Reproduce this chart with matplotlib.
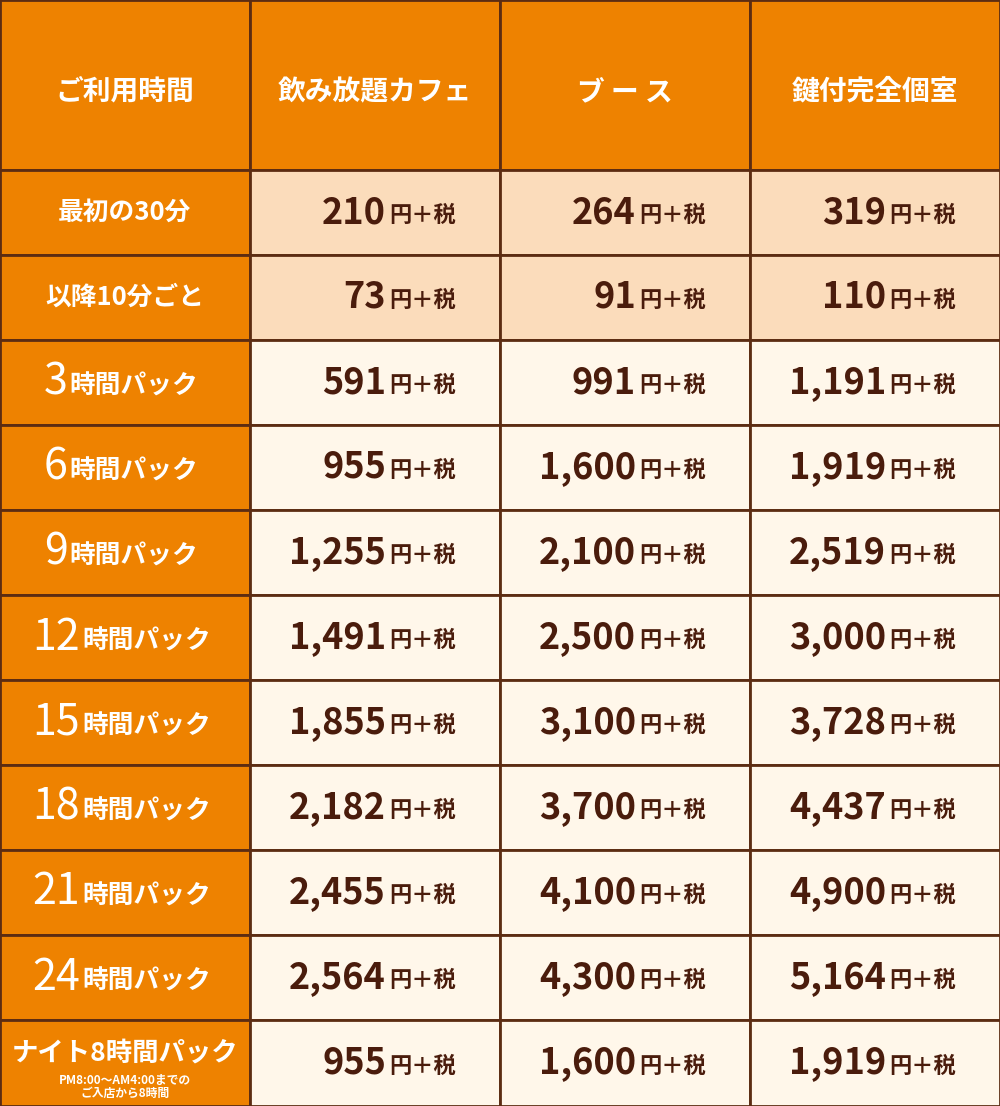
import matplotlib.pyplot as plt
from matplotlib.patches import Rectangle

plt.rcParams['font.family'] = 'Noto Sans CJK JP'

headers = ['ご利用時間', '飲み放題カフェ', 'ブ ー ス', '鍵付完全個室']
row_nums = ['', '', '3', '6', '9', '12', '15', '18', '21', '24', '']
row_labels = ['最初の30分', '以降10分ごと', '時間パック', '時間パック', '時間パック', '時間パック',
              '時間パック', '時間パック', '時間パック', '時間パック', 'ナイト8時間パック']
cafe = ['210', '73', '591', '955', '1,255', '1,491', '1,855', '2,182', '2,455', '2,564', '955']
booth = ['264', '91', '991', '1,600', '2,100', '2,500', '3,100', '3,700', '4,100', '4,300', '1,600']
room = ['319', '110', '1,191', '1,919', '2,519', '3,000', '3,728', '4,437', '4,900', '5,164', '1,919']
night_note = 'PM8:00～AM4:00までの\nご入店から8時間'

ORANGE = '#ee8200'
BORDER = '#5c2c12'
PEACH = '#fbdcbb'
CREAM = '#fff7ea'
TEXT = '#4a1c0c'

fig = plt.figure(figsize=(10, 11.06), dpi=100)
ax = fig.add_axes([0, 0, 1, 1])
ax.set_xlim(0, 1000)
ax.set_ylim(1106, 0)
ax.axis('off')

col_x = [0, 250, 500, 750, 1000]
row_y = [0, 170] + [170 + 85 * (i + 1) for i in range(10)] + [1106]

def cell(x0, y0, x1, y1, color):
    ax.add_patch(Rectangle((x0, y0), x1 - x0, y1 - y0, facecolor=color,
                           edgecolor=BORDER, linewidth=2))

# header
for c, h in enumerate(headers):
    cell(col_x[c], 0, col_x[c + 1], 170, ORANGE)
    ax.text((col_x[c] + col_x[c + 1]) / 2, 92, h, color='white', fontsize=20,
            fontweight='bold', ha='center', va='center')

cols = [cafe, booth, room]
for r in range(len(row_labels)):
    y0, y1 = row_y[r + 1], row_y[r + 2]
    yc = (y0 + y1) / 2
    cell(0, y0, 250, y1, ORANGE)
    if r == 10:
        ax.text(125, y0 + 33, 'ナイト8時間パック', color='white', fontsize=19,
                fontweight='bold', ha='center', va='center')
        ax.text(125, y0 + 67, night_note, color='white', fontsize=8.5,
                fontweight='bold', ha='center', va='center', linespacing=0.95)
    elif row_nums[r]:
        nw = 25 * len(row_nums[r])
        split = 125 - (nw + 140) / 2 + nw
        ax.text(split, yc, row_nums[r], color='white', fontsize=31,
                fontweight='normal', ha='right', va='center')
        ax.text(split + 2, yc + 4, row_labels[r], color='white', fontsize=18.5,
                fontweight='bold', ha='left', va='center')
    else:
        ax.text(125, yc, row_labels[r], color='white', fontsize=18.5,
                fontweight='bold', ha='center', va='center')
    fill = PEACH if r < 2 else CREAM
    for c, vals in enumerate(cols):
        x0 = col_x[c + 1]
        cell(x0, y0, col_x[c + 2], y1, fill)
        ax.text(x0 + 136, yc, vals[r], color=TEXT, fontsize=26, fontweight='bold',
                ha='right', va='center')
        ax.text(x0 + 139, yc + 3, '円＋税', color=TEXT, fontsize=16, fontweight='bold',
                ha='left', va='center')

fig.savefig('out.png', dpi=100)
